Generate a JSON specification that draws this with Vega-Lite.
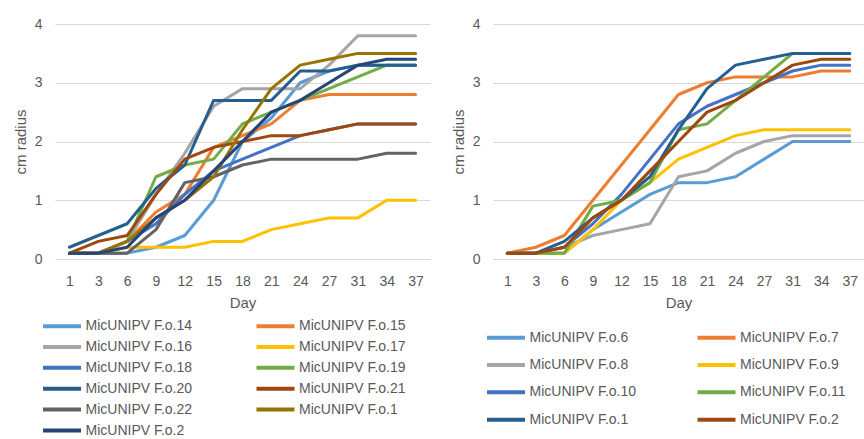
{
  "$schema": "https://vega.github.io/schema/vega-lite/v6.json",
  "padding": {"top": 17, "left": 13, "right": 0, "bottom": 0},
  "background": "white",
  "config": {
    "font": "Liberation Sans",
    "view": {"stroke": null},
    "axis": {"domain": false, "ticks": false, "labelColor": "#595959", "titleColor": "#595959", "titleFontWeight": "normal", "labelFontSize": 14, "titleFontSize": 15, "gridColor": "#D9D9D9", "gridWidth": 1.2},
    "legend": {"labelFontSize": 14, "labelColor": "#595959", "symbolType": "M-2,0L2,0", "symbolStrokeWidth": 4, "symbolSize": 361, "labelOffset": 12, "title": null, "direction": "horizontal"}
  },
  "spacing": 21,
  "resolve": {"scale": {"color": "independent"}, "legend": {"color": "independent"}},
  "datasets": {
    "left": [
      {"series": "MicUNIPV F.o.14", "day": 1, "radius": 0.1}, {"series": "MicUNIPV F.o.14", "day": 3, "radius": 0.1}, {"series": "MicUNIPV F.o.14", "day": 6, "radius": 0.1}, {"series": "MicUNIPV F.o.14", "day": 9, "radius": 0.2}, {"series": "MicUNIPV F.o.14", "day": 12, "radius": 0.4}, {"series": "MicUNIPV F.o.14", "day": 15, "radius": 1.0}, {"series": "MicUNIPV F.o.14", "day": 18, "radius": 2.0}, {"series": "MicUNIPV F.o.14", "day": 21, "radius": 2.4}, {"series": "MicUNIPV F.o.14", "day": 24, "radius": 3.0}, {"series": "MicUNIPV F.o.14", "day": 27, "radius": 3.2}, {"series": "MicUNIPV F.o.14", "day": 31, "radius": 3.3}, {"series": "MicUNIPV F.o.14", "day": 34, "radius": 3.3}, {"series": "MicUNIPV F.o.14", "day": 37, "radius": 3.3},
      {"series": "MicUNIPV F.o.15", "day": 1, "radius": 0.1}, {"series": "MicUNIPV F.o.15", "day": 3, "radius": 0.1}, {"series": "MicUNIPV F.o.15", "day": 6, "radius": 0.3}, {"series": "MicUNIPV F.o.15", "day": 9, "radius": 0.8}, {"series": "MicUNIPV F.o.15", "day": 12, "radius": 1.1}, {"series": "MicUNIPV F.o.15", "day": 15, "radius": 1.9}, {"series": "MicUNIPV F.o.15", "day": 18, "radius": 2.1}, {"series": "MicUNIPV F.o.15", "day": 21, "radius": 2.3}, {"series": "MicUNIPV F.o.15", "day": 24, "radius": 2.7}, {"series": "MicUNIPV F.o.15", "day": 27, "radius": 2.8}, {"series": "MicUNIPV F.o.15", "day": 31, "radius": 2.8}, {"series": "MicUNIPV F.o.15", "day": 34, "radius": 2.8}, {"series": "MicUNIPV F.o.15", "day": 37, "radius": 2.8},
      {"series": "MicUNIPV F.o.16", "day": 1, "radius": 0.1}, {"series": "MicUNIPV F.o.16", "day": 3, "radius": 0.1}, {"series": "MicUNIPV F.o.16", "day": 6, "radius": 0.3}, {"series": "MicUNIPV F.o.16", "day": 9, "radius": 1.1}, {"series": "MicUNIPV F.o.16", "day": 12, "radius": 1.8}, {"series": "MicUNIPV F.o.16", "day": 15, "radius": 2.6}, {"series": "MicUNIPV F.o.16", "day": 18, "radius": 2.9}, {"series": "MicUNIPV F.o.16", "day": 21, "radius": 2.9}, {"series": "MicUNIPV F.o.16", "day": 24, "radius": 2.9}, {"series": "MicUNIPV F.o.16", "day": 27, "radius": 3.3}, {"series": "MicUNIPV F.o.16", "day": 31, "radius": 3.8}, {"series": "MicUNIPV F.o.16", "day": 34, "radius": 3.8}, {"series": "MicUNIPV F.o.16", "day": 37, "radius": 3.8},
      {"series": "MicUNIPV F.o.17", "day": 1, "radius": 0.1}, {"series": "MicUNIPV F.o.17", "day": 3, "radius": 0.1}, {"series": "MicUNIPV F.o.17", "day": 6, "radius": 0.2}, {"series": "MicUNIPV F.o.17", "day": 9, "radius": 0.2}, {"series": "MicUNIPV F.o.17", "day": 12, "radius": 0.2}, {"series": "MicUNIPV F.o.17", "day": 15, "radius": 0.3}, {"series": "MicUNIPV F.o.17", "day": 18, "radius": 0.3}, {"series": "MicUNIPV F.o.17", "day": 21, "radius": 0.5}, {"series": "MicUNIPV F.o.17", "day": 24, "radius": 0.6}, {"series": "MicUNIPV F.o.17", "day": 27, "radius": 0.7}, {"series": "MicUNIPV F.o.17", "day": 31, "radius": 0.7}, {"series": "MicUNIPV F.o.17", "day": 34, "radius": 1.0}, {"series": "MicUNIPV F.o.17", "day": 37, "radius": 1.0},
      {"series": "MicUNIPV F.o.18", "day": 1, "radius": 0.1}, {"series": "MicUNIPV F.o.18", "day": 3, "radius": 0.1}, {"series": "MicUNIPV F.o.18", "day": 6, "radius": 0.3}, {"series": "MicUNIPV F.o.18", "day": 9, "radius": 0.6}, {"series": "MicUNIPV F.o.18", "day": 12, "radius": 1.1}, {"series": "MicUNIPV F.o.18", "day": 15, "radius": 1.5}, {"series": "MicUNIPV F.o.18", "day": 18, "radius": 1.7}, {"series": "MicUNIPV F.o.18", "day": 21, "radius": 1.9}, {"series": "MicUNIPV F.o.18", "day": 24, "radius": 2.1}, {"series": "MicUNIPV F.o.18", "day": 27, "radius": 2.2}, {"series": "MicUNIPV F.o.18", "day": 31, "radius": 2.3}, {"series": "MicUNIPV F.o.18", "day": 34, "radius": 2.3}, {"series": "MicUNIPV F.o.18", "day": 37, "radius": 2.3},
      {"series": "MicUNIPV F.o.19", "day": 1, "radius": 0.1}, {"series": "MicUNIPV F.o.19", "day": 3, "radius": 0.1}, {"series": "MicUNIPV F.o.19", "day": 6, "radius": 0.3}, {"series": "MicUNIPV F.o.19", "day": 9, "radius": 1.4}, {"series": "MicUNIPV F.o.19", "day": 12, "radius": 1.6}, {"series": "MicUNIPV F.o.19", "day": 15, "radius": 1.7}, {"series": "MicUNIPV F.o.19", "day": 18, "radius": 2.3}, {"series": "MicUNIPV F.o.19", "day": 21, "radius": 2.5}, {"series": "MicUNIPV F.o.19", "day": 24, "radius": 2.7}, {"series": "MicUNIPV F.o.19", "day": 27, "radius": 2.9}, {"series": "MicUNIPV F.o.19", "day": 31, "radius": 3.1}, {"series": "MicUNIPV F.o.19", "day": 34, "radius": 3.3}, {"series": "MicUNIPV F.o.19", "day": 37, "radius": 3.3},
      {"series": "MicUNIPV F.o.20", "day": 1, "radius": 0.2}, {"series": "MicUNIPV F.o.20", "day": 3, "radius": 0.4}, {"series": "MicUNIPV F.o.20", "day": 6, "radius": 0.6}, {"series": "MicUNIPV F.o.20", "day": 9, "radius": 1.2}, {"series": "MicUNIPV F.o.20", "day": 12, "radius": 1.6}, {"series": "MicUNIPV F.o.20", "day": 15, "radius": 2.7}, {"series": "MicUNIPV F.o.20", "day": 18, "radius": 2.7}, {"series": "MicUNIPV F.o.20", "day": 21, "radius": 2.7}, {"series": "MicUNIPV F.o.20", "day": 24, "radius": 3.2}, {"series": "MicUNIPV F.o.20", "day": 27, "radius": 3.2}, {"series": "MicUNIPV F.o.20", "day": 31, "radius": 3.3}, {"series": "MicUNIPV F.o.20", "day": 34, "radius": 3.3}, {"series": "MicUNIPV F.o.20", "day": 37, "radius": 3.3},
      {"series": "MicUNIPV F.o.21", "day": 1, "radius": 0.1}, {"series": "MicUNIPV F.o.21", "day": 3, "radius": 0.3}, {"series": "MicUNIPV F.o.21", "day": 6, "radius": 0.4}, {"series": "MicUNIPV F.o.21", "day": 9, "radius": 1.1}, {"series": "MicUNIPV F.o.21", "day": 12, "radius": 1.7}, {"series": "MicUNIPV F.o.21", "day": 15, "radius": 1.9}, {"series": "MicUNIPV F.o.21", "day": 18, "radius": 2.0}, {"series": "MicUNIPV F.o.21", "day": 21, "radius": 2.1}, {"series": "MicUNIPV F.o.21", "day": 24, "radius": 2.1}, {"series": "MicUNIPV F.o.21", "day": 27, "radius": 2.2}, {"series": "MicUNIPV F.o.21", "day": 31, "radius": 2.3}, {"series": "MicUNIPV F.o.21", "day": 34, "radius": 2.3}, {"series": "MicUNIPV F.o.21", "day": 37, "radius": 2.3},
      {"series": "MicUNIPV F.o.22", "day": 1, "radius": 0.1}, {"series": "MicUNIPV F.o.22", "day": 3, "radius": 0.1}, {"series": "MicUNIPV F.o.22", "day": 6, "radius": 0.1}, {"series": "MicUNIPV F.o.22", "day": 9, "radius": 0.5}, {"series": "MicUNIPV F.o.22", "day": 12, "radius": 1.3}, {"series": "MicUNIPV F.o.22", "day": 15, "radius": 1.4}, {"series": "MicUNIPV F.o.22", "day": 18, "radius": 1.6}, {"series": "MicUNIPV F.o.22", "day": 21, "radius": 1.7}, {"series": "MicUNIPV F.o.22", "day": 24, "radius": 1.7}, {"series": "MicUNIPV F.o.22", "day": 27, "radius": 1.7}, {"series": "MicUNIPV F.o.22", "day": 31, "radius": 1.7}, {"series": "MicUNIPV F.o.22", "day": 34, "radius": 1.8}, {"series": "MicUNIPV F.o.22", "day": 37, "radius": 1.8},
      {"series": "MicUNIPV F.o.1", "day": 1, "radius": 0.1}, {"series": "MicUNIPV F.o.1", "day": 3, "radius": 0.1}, {"series": "MicUNIPV F.o.1", "day": 6, "radius": 0.3}, {"series": "MicUNIPV F.o.1", "day": 9, "radius": 0.7}, {"series": "MicUNIPV F.o.1", "day": 12, "radius": 1.0}, {"series": "MicUNIPV F.o.1", "day": 15, "radius": 1.4}, {"series": "MicUNIPV F.o.1", "day": 18, "radius": 2.2}, {"series": "MicUNIPV F.o.1", "day": 21, "radius": 2.9}, {"series": "MicUNIPV F.o.1", "day": 24, "radius": 3.3}, {"series": "MicUNIPV F.o.1", "day": 27, "radius": 3.4}, {"series": "MicUNIPV F.o.1", "day": 31, "radius": 3.5}, {"series": "MicUNIPV F.o.1", "day": 34, "radius": 3.5}, {"series": "MicUNIPV F.o.1", "day": 37, "radius": 3.5},
      {"series": "MicUNIPV F.o.2", "day": 1, "radius": 0.1}, {"series": "MicUNIPV F.o.2", "day": 3, "radius": 0.1}, {"series": "MicUNIPV F.o.2", "day": 6, "radius": 0.2}, {"series": "MicUNIPV F.o.2", "day": 9, "radius": 0.7}, {"series": "MicUNIPV F.o.2", "day": 12, "radius": 1.0}, {"series": "MicUNIPV F.o.2", "day": 15, "radius": 1.5}, {"series": "MicUNIPV F.o.2", "day": 18, "radius": 2.0}, {"series": "MicUNIPV F.o.2", "day": 21, "radius": 2.5}, {"series": "MicUNIPV F.o.2", "day": 24, "radius": 2.7}, {"series": "MicUNIPV F.o.2", "day": 27, "radius": 3.0}, {"series": "MicUNIPV F.o.2", "day": 31, "radius": 3.3}, {"series": "MicUNIPV F.o.2", "day": 34, "radius": 3.4}, {"series": "MicUNIPV F.o.2", "day": 37, "radius": 3.4}
    ],
    "right": [
      {"series": "MicUNIPV F.o.6", "day": 1, "radius": 0.1}, {"series": "MicUNIPV F.o.6", "day": 3, "radius": 0.1}, {"series": "MicUNIPV F.o.6", "day": 6, "radius": 0.1}, {"series": "MicUNIPV F.o.6", "day": 9, "radius": 0.5}, {"series": "MicUNIPV F.o.6", "day": 12, "radius": 0.8}, {"series": "MicUNIPV F.o.6", "day": 15, "radius": 1.1}, {"series": "MicUNIPV F.o.6", "day": 18, "radius": 1.3}, {"series": "MicUNIPV F.o.6", "day": 21, "radius": 1.3}, {"series": "MicUNIPV F.o.6", "day": 24, "radius": 1.4}, {"series": "MicUNIPV F.o.6", "day": 27, "radius": 1.7}, {"series": "MicUNIPV F.o.6", "day": 31, "radius": 2.0}, {"series": "MicUNIPV F.o.6", "day": 34, "radius": 2.0}, {"series": "MicUNIPV F.o.6", "day": 37, "radius": 2.0},
      {"series": "MicUNIPV F.o.7", "day": 1, "radius": 0.1}, {"series": "MicUNIPV F.o.7", "day": 3, "radius": 0.2}, {"series": "MicUNIPV F.o.7", "day": 6, "radius": 0.4}, {"series": "MicUNIPV F.o.7", "day": 9, "radius": 1.0}, {"series": "MicUNIPV F.o.7", "day": 12, "radius": 1.6}, {"series": "MicUNIPV F.o.7", "day": 15, "radius": 2.2}, {"series": "MicUNIPV F.o.7", "day": 18, "radius": 2.8}, {"series": "MicUNIPV F.o.7", "day": 21, "radius": 3.0}, {"series": "MicUNIPV F.o.7", "day": 24, "radius": 3.1}, {"series": "MicUNIPV F.o.7", "day": 27, "radius": 3.1}, {"series": "MicUNIPV F.o.7", "day": 31, "radius": 3.1}, {"series": "MicUNIPV F.o.7", "day": 34, "radius": 3.2}, {"series": "MicUNIPV F.o.7", "day": 37, "radius": 3.2},
      {"series": "MicUNIPV F.o.8", "day": 1, "radius": 0.1}, {"series": "MicUNIPV F.o.8", "day": 3, "radius": 0.1}, {"series": "MicUNIPV F.o.8", "day": 6, "radius": 0.2}, {"series": "MicUNIPV F.o.8", "day": 9, "radius": 0.4}, {"series": "MicUNIPV F.o.8", "day": 12, "radius": 0.5}, {"series": "MicUNIPV F.o.8", "day": 15, "radius": 0.6}, {"series": "MicUNIPV F.o.8", "day": 18, "radius": 1.4}, {"series": "MicUNIPV F.o.8", "day": 21, "radius": 1.5}, {"series": "MicUNIPV F.o.8", "day": 24, "radius": 1.8}, {"series": "MicUNIPV F.o.8", "day": 27, "radius": 2.0}, {"series": "MicUNIPV F.o.8", "day": 31, "radius": 2.1}, {"series": "MicUNIPV F.o.8", "day": 34, "radius": 2.1}, {"series": "MicUNIPV F.o.8", "day": 37, "radius": 2.1},
      {"series": "MicUNIPV F.o.9", "day": 1, "radius": 0.1}, {"series": "MicUNIPV F.o.9", "day": 3, "radius": 0.1}, {"series": "MicUNIPV F.o.9", "day": 6, "radius": 0.1}, {"series": "MicUNIPV F.o.9", "day": 9, "radius": 0.5}, {"series": "MicUNIPV F.o.9", "day": 12, "radius": 1.0}, {"series": "MicUNIPV F.o.9", "day": 15, "radius": 1.3}, {"series": "MicUNIPV F.o.9", "day": 18, "radius": 1.7}, {"series": "MicUNIPV F.o.9", "day": 21, "radius": 1.9}, {"series": "MicUNIPV F.o.9", "day": 24, "radius": 2.1}, {"series": "MicUNIPV F.o.9", "day": 27, "radius": 2.2}, {"series": "MicUNIPV F.o.9", "day": 31, "radius": 2.2}, {"series": "MicUNIPV F.o.9", "day": 34, "radius": 2.2}, {"series": "MicUNIPV F.o.9", "day": 37, "radius": 2.2},
      {"series": "MicUNIPV F.o.10", "day": 1, "radius": 0.1}, {"series": "MicUNIPV F.o.10", "day": 3, "radius": 0.1}, {"series": "MicUNIPV F.o.10", "day": 6, "radius": 0.2}, {"series": "MicUNIPV F.o.10", "day": 9, "radius": 0.6}, {"series": "MicUNIPV F.o.10", "day": 12, "radius": 1.1}, {"series": "MicUNIPV F.o.10", "day": 15, "radius": 1.7}, {"series": "MicUNIPV F.o.10", "day": 18, "radius": 2.3}, {"series": "MicUNIPV F.o.10", "day": 21, "radius": 2.6}, {"series": "MicUNIPV F.o.10", "day": 24, "radius": 2.8}, {"series": "MicUNIPV F.o.10", "day": 27, "radius": 3.0}, {"series": "MicUNIPV F.o.10", "day": 31, "radius": 3.2}, {"series": "MicUNIPV F.o.10", "day": 34, "radius": 3.3}, {"series": "MicUNIPV F.o.10", "day": 37, "radius": 3.3},
      {"series": "MicUNIPV F.o.11", "day": 1, "radius": 0.1}, {"series": "MicUNIPV F.o.11", "day": 3, "radius": 0.1}, {"series": "MicUNIPV F.o.11", "day": 6, "radius": 0.1}, {"series": "MicUNIPV F.o.11", "day": 9, "radius": 0.9}, {"series": "MicUNIPV F.o.11", "day": 12, "radius": 1.0}, {"series": "MicUNIPV F.o.11", "day": 15, "radius": 1.3}, {"series": "MicUNIPV F.o.11", "day": 18, "radius": 2.2}, {"series": "MicUNIPV F.o.11", "day": 21, "radius": 2.3}, {"series": "MicUNIPV F.o.11", "day": 24, "radius": 2.7}, {"series": "MicUNIPV F.o.11", "day": 27, "radius": 3.1}, {"series": "MicUNIPV F.o.11", "day": 31, "radius": 3.5}, {"series": "MicUNIPV F.o.11", "day": 34, "radius": 3.5}, {"series": "MicUNIPV F.o.11", "day": 37, "radius": 3.5},
      {"series": "MicUNIPV F.o.1", "day": 1, "radius": 0.1}, {"series": "MicUNIPV F.o.1", "day": 3, "radius": 0.1}, {"series": "MicUNIPV F.o.1", "day": 6, "radius": 0.3}, {"series": "MicUNIPV F.o.1", "day": 9, "radius": 0.7}, {"series": "MicUNIPV F.o.1", "day": 12, "radius": 1.0}, {"series": "MicUNIPV F.o.1", "day": 15, "radius": 1.4}, {"series": "MicUNIPV F.o.1", "day": 18, "radius": 2.2}, {"series": "MicUNIPV F.o.1", "day": 21, "radius": 2.9}, {"series": "MicUNIPV F.o.1", "day": 24, "radius": 3.3}, {"series": "MicUNIPV F.o.1", "day": 27, "radius": 3.4}, {"series": "MicUNIPV F.o.1", "day": 31, "radius": 3.5}, {"series": "MicUNIPV F.o.1", "day": 34, "radius": 3.5}, {"series": "MicUNIPV F.o.1", "day": 37, "radius": 3.5},
      {"series": "MicUNIPV F.o.2", "day": 1, "radius": 0.1}, {"series": "MicUNIPV F.o.2", "day": 3, "radius": 0.1}, {"series": "MicUNIPV F.o.2", "day": 6, "radius": 0.2}, {"series": "MicUNIPV F.o.2", "day": 9, "radius": 0.7}, {"series": "MicUNIPV F.o.2", "day": 12, "radius": 1.0}, {"series": "MicUNIPV F.o.2", "day": 15, "radius": 1.5}, {"series": "MicUNIPV F.o.2", "day": 18, "radius": 2.0}, {"series": "MicUNIPV F.o.2", "day": 21, "radius": 2.5}, {"series": "MicUNIPV F.o.2", "day": 24, "radius": 2.7}, {"series": "MicUNIPV F.o.2", "day": 27, "radius": 3.0}, {"series": "MicUNIPV F.o.2", "day": 31, "radius": 3.3}, {"series": "MicUNIPV F.o.2", "day": 34, "radius": 3.4}, {"series": "MicUNIPV F.o.2", "day": 37, "radius": 3.4}
    ]
  },
  "hconcat": [
    {
      "width": 375,
      "height": 235,
      "data": {"name": "left"},
      "mark": {"type": "line", "strokeWidth": 3, "strokeCap": "round", "strokeJoin": "round"},
      "encoding": {
        "x": {"field": "day", "type": "ordinal", "title": "Day", "scale": {"type": "point", "padding": 0.5}, "axis": {"labelAngle": 0, "labelPadding": 15, "titlePadding": 7}},
        "y": {"field": "radius", "type": "quantitative", "title": "cm radius", "scale": {"domain": [0, 4]}, "axis": {"values": [0, 1, 2, 3, 4], "labelPadding": 13, "titlePadding": 6}},
        "color": {
          "field": "series", "type": "nominal",
          "scale": {
            "domain": ["MicUNIPV F.o.14", "MicUNIPV F.o.15", "MicUNIPV F.o.16", "MicUNIPV F.o.17", "MicUNIPV F.o.18", "MicUNIPV F.o.19", "MicUNIPV F.o.20", "MicUNIPV F.o.21", "MicUNIPV F.o.22", "MicUNIPV F.o.1", "MicUNIPV F.o.2"],
            "range": ["#5B9BD5", "#ED7D31", "#A5A5A5", "#FFC000", "#4472C4", "#70AD47", "#255E91", "#9E480E", "#636363", "#997300", "#264478"]
          },
          "legend": {"orient": "none", "legendX": -4.5, "legendY": 290.5, "columns": 2, "columnPadding": 55.5, "rowPadding": 0.9}
        }
      }
    },
    {
      "width": 371,
      "height": 235,
      "data": {"name": "right"},
      "mark": {"type": "line", "strokeWidth": 3, "strokeCap": "round", "strokeJoin": "round"},
      "encoding": {
        "x": {"field": "day", "type": "ordinal", "title": "Day", "scale": {"type": "point", "padding": 0.5}, "axis": {"labelAngle": 0, "labelPadding": 15, "titlePadding": 7}},
        "y": {"field": "radius", "type": "quantitative", "title": "cm radius", "scale": {"domain": [0, 4]}, "axis": {"values": [0, 1, 2, 3, 4], "labelPadding": 13, "titlePadding": 6}},
        "color": {
          "field": "series", "type": "nominal",
          "scale": {
            "domain": ["MicUNIPV F.o.6", "MicUNIPV F.o.7", "MicUNIPV F.o.8", "MicUNIPV F.o.9", "MicUNIPV F.o.10", "MicUNIPV F.o.11", "MicUNIPV F.o.1", "MicUNIPV F.o.2"],
            "range": ["#5B9BD5", "#ED7D31", "#A5A5A5", "#FFC000", "#4472C4", "#70AD47", "#255E91", "#9E480E"]
          },
          "legend": {"orient": "none", "legendX": 1.5, "legendY": 302, "columns": 2, "columnPadding": 52.5, "rowPadding": 7.4}
        }
      }
    }
  ]
}
